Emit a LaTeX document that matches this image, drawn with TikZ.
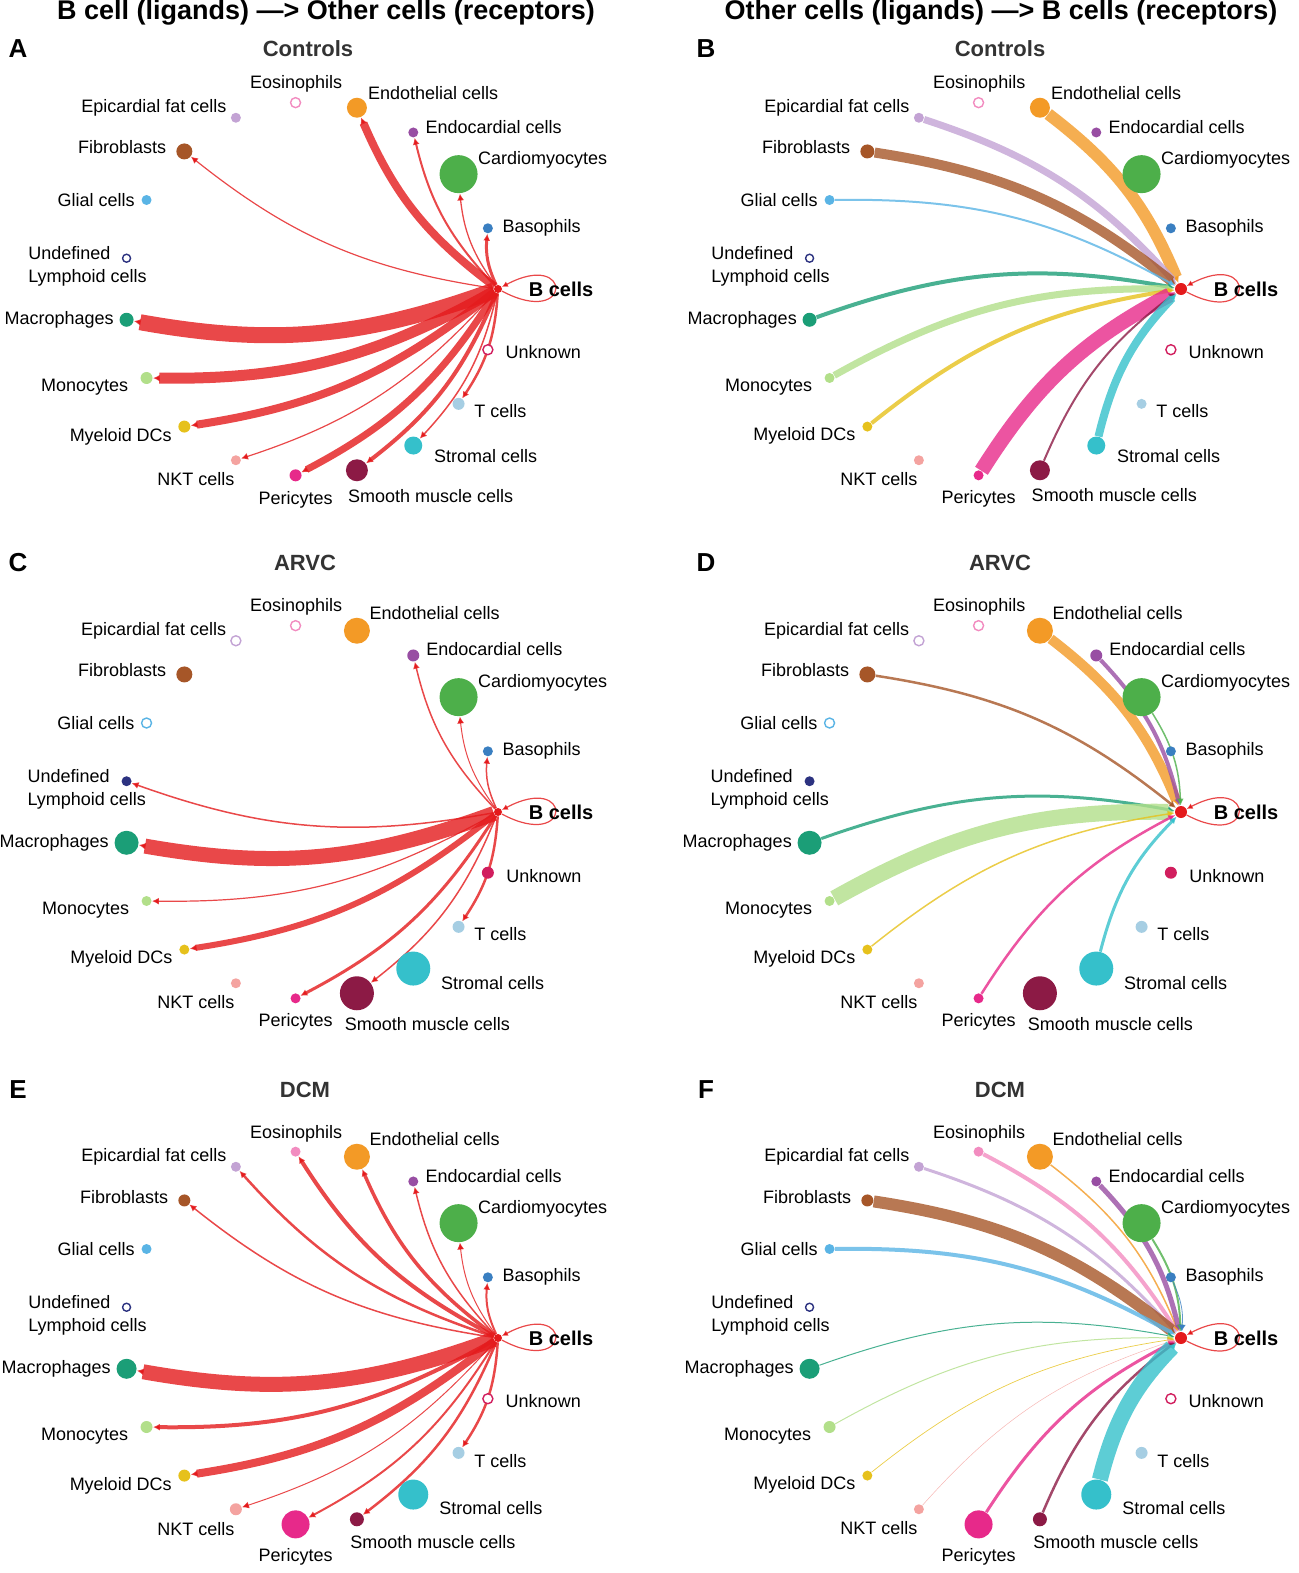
\documentclass[tikz,border=0pt]{standalone}
\usepackage{fontspec}
\setmainfont{Liberation Sans}
\usetikzlibrary{arrows.meta}

\definecolor{bcell}{HTML}{E41A1C}
\definecolor{baso}{HTML}{3A7FC1}
\definecolor{cardio}{HTML}{4DAF4A}
\definecolor{endoc}{HTML}{984EA3}
\definecolor{endot}{HTML}{F39A26}
\definecolor{eos}{HTML}{F28CC0}
\definecolor{epi}{HTML}{C3A3D4}
\definecolor{fibro}{HTML}{A65628}
\definecolor{glial}{HTML}{5AB4E5}
\definecolor{ulc}{HTML}{2C3280}
\definecolor{macro}{HTML}{1B9E77}
\definecolor{mono}{HTML}{B2DF8A}
\definecolor{mdc}{HTML}{E6C11C}
\definecolor{nkt}{HTML}{F4A3A0}
\definecolor{peri}{HTML}{E7298A}
\definecolor{smc}{HTML}{8C1A45}
\definecolor{strom}{HTML}{35C0CB}
\definecolor{tcell}{HTML}{A6CEE3}
\definecolor{unk}{HTML}{D11E5E}

\pgfdeclarelayer{edges}
\pgfsetlayers{edges,main}

\begin{document}
\begin{tikzpicture}[
    x=.5pt, y=-.5pt,
    cell/.code 2 args={%
      \pgfmathsetmacro\rad{abs(#1)}%
      \ifdim#1pt<0pt
        \tikzset{circle, inner sep=0pt, minimum size=\rad pt, draw=#2, fill=white, line width=.7pt}%
      \else
        \tikzset{circle, inner sep=0pt, minimum size=\rad pt, fill=#2}%
      \fi},
    every label/.style={font=\fontsize{9}{11.5}\selectfont, inner sep=1pt, align=left},
    tag/.style={font=\bfseries\fontsize{13}{15}\selectfont},
    cohort/.style={font=\bfseries\fontsize{11}{13}\selectfont, text=black!80},
    head/.style={font=\bfseries\fontsize{13.5}{16}\selectfont},
    flow/.style={line width=#1*.5pt, draw opacity=.8, bend left=15,
      -{Latex[length=3.5pt,width=3.5pt]}},
    selfloop/.style={bcell, line width=.6pt, draw opacity=.8,
      -{Latex[length=3pt,width=3pt]}}]
  \useasboundingbox (0,0) rectangle (1299,1573);

  \node[head] (head-l) at (326,13) {B cell (ligands) —> Other cells (receptors)};
  \node[head] (head-r) at (1001,13) {Other cells (ligands) —> B cells (receptors)};

  \foreach \p/\x/\y/\tx/\grp in {A/18/49/308/Controls, B/706/49/1000/Controls,
    C/18/563/305/ARVC, D/706/563/1000/ARVC, E/18/1090/305/DCM, F/706/1090/1000/DCM} {
    \node[tag] (tag-\p) at (\x,\y) {\p};
    \node[cohort] (grp-\p) at (\tx,\y) {\grp};
  }

  % cells on a circle, negative size = no signal (open ring)
  \foreach \p/\cx/\cy/\sz in {
    A/311/289/{4,5,19,5,10,-5,5,8,5,-4,7,6,6,5,6,11,9,6,-5},
    B/994/289/{6,5,19,5,10,-5,5,7,5,-4,7,5,5,5,5,10,9,5,-5},
    C/311/812/{4,5,19,6,13,-5,-5,8,-5,5,12,5,5,5,5,17,17,6,6},
    D/994/812/{6,5,19,6,13,-5,-5,8,-5,5,12,5,5,5,5,17,17,6,6},
    E/311/1338/{4,5,19,5,13,5,5,6,5,-4,10,6,6,6,14,7,15,6,-5},
    F/994/1338/{6,5,19,5,13,5,5,6,5,-4,10,6,5,5,14,7,15,6,-5}}
  \foreach \key/\la/\anc/\ld/\txt [count=\k from 0] in {
    bcell/0/west/12/{\fontsize{10}{12}\selectfont\bfseries B cells},
    baso/0/west/3.5/Basophils,
    cardio/40/west/1.5/Cardiomyocytes,
    endoc/30/west/3/Endocardial cells,
    endot/60/west/3.5/Endothelial cells,
    eos/85/south/1/Eosinophils,
    epi/125/east/3.5/Epicardial fat cells,
    fibro/165/east/4/Fibroblasts,
    glial/180/east/2/Glial cells,
    ulc/180/north west/0/{Undefined\\Lymphoid cells},
    macro/180/east/1.5/Macrophages,
    mono/210/east/6/Monocytes,
    mdc/225/east/4/Myeloid DCs,
    nkt/275/north east/2/NKT cells,
    peri/270/north/3.5/Pericytes,
    smc/237/north west/4.5/Smooth muscle cells,
    strom/-30/west/6/Stromal cells,
    tcell/-30/west/4.5/T cells,
    unk/-10/west/5/Unknown} {
    \pgfmathsetmacro\rsz{{\sz}[\k]}
    \pgfmathsetmacro\ang{\k*360/19}
    \pgfmathsetmacro\xs{ifthenelse(\k==9,-48,0)}
    \pgfmathsetmacro\ys{ifthenelse(\k==9,7,0)}
    \node[cell={\rsz}{\key},
      label={[anchor=\anc, label distance=\ld pt, xshift=\xs pt, yshift=\ys pt]\la:\txt}]
      (\p-\key) at ({\cx+187*cos(\ang)}, {\cy-187*sin(\ang)}) {};
  }

  \begin{pgfonlayer}{edges}
    % B cells as sender
    \foreach \p/\list in {
      A/{baso/3, cardio/1.3, endoc/2, endot/8, fibro/1.2, macro/16, mono/11, mdc/8,
        nkt/1.2, peri/7, smc/4, strom/1.5, tcell/2.5},
      C/{endoc/1.5, cardio/1, baso/1.5, ulc/1.5, macro/15, mono/1.2, mdc/6, peri/3,
        smc/1.5, tcell/2.5},
      E/{eos/4, epi/2.5, fibro/1.5, endot/3.5, endoc/1.5, cardio/1, baso/2, macro/15,
        mono/4, mdc/8, nkt/1, peri/2, smc/2.5, tcell/2.5}}
    \foreach \tgt/\w in \list
    \draw[flow=\w, bcell] (\p-bcell) to (\p-\tgt);

    % B cells as receiver
    \foreach \p/\list in {
      B/{endot/12, epi/7, fibro/10, glial/2, macro/4, mono/7, mdc/4, peri/15, smc/2, strom/8},
      D/{endot/10, endoc/4, cardio/1.5, fibro/2.5, macro/3, mono/16, mdc/1.5, peri/2.5, strom/3},
      F/{eos/4, epi/3, endot/1.5, endoc/5, cardio/2, baso/.8, fibro/12, glial/4, macro/1,
        mono/1, mdc/.7, nkt/.5, peri/3, smc/2.5, strom/16}}
    \foreach \src/\w in \list
    \draw[flow=\w, \src] (\p-\src) to (\p-bcell);

    \foreach \p in {A,...,F}
    \draw[selfloop] (\p-bcell) .. controls +(28:85) and +(-28:85) .. (\p-bcell);
  \end{pgfonlayer}
\end{tikzpicture}
\end{document}
